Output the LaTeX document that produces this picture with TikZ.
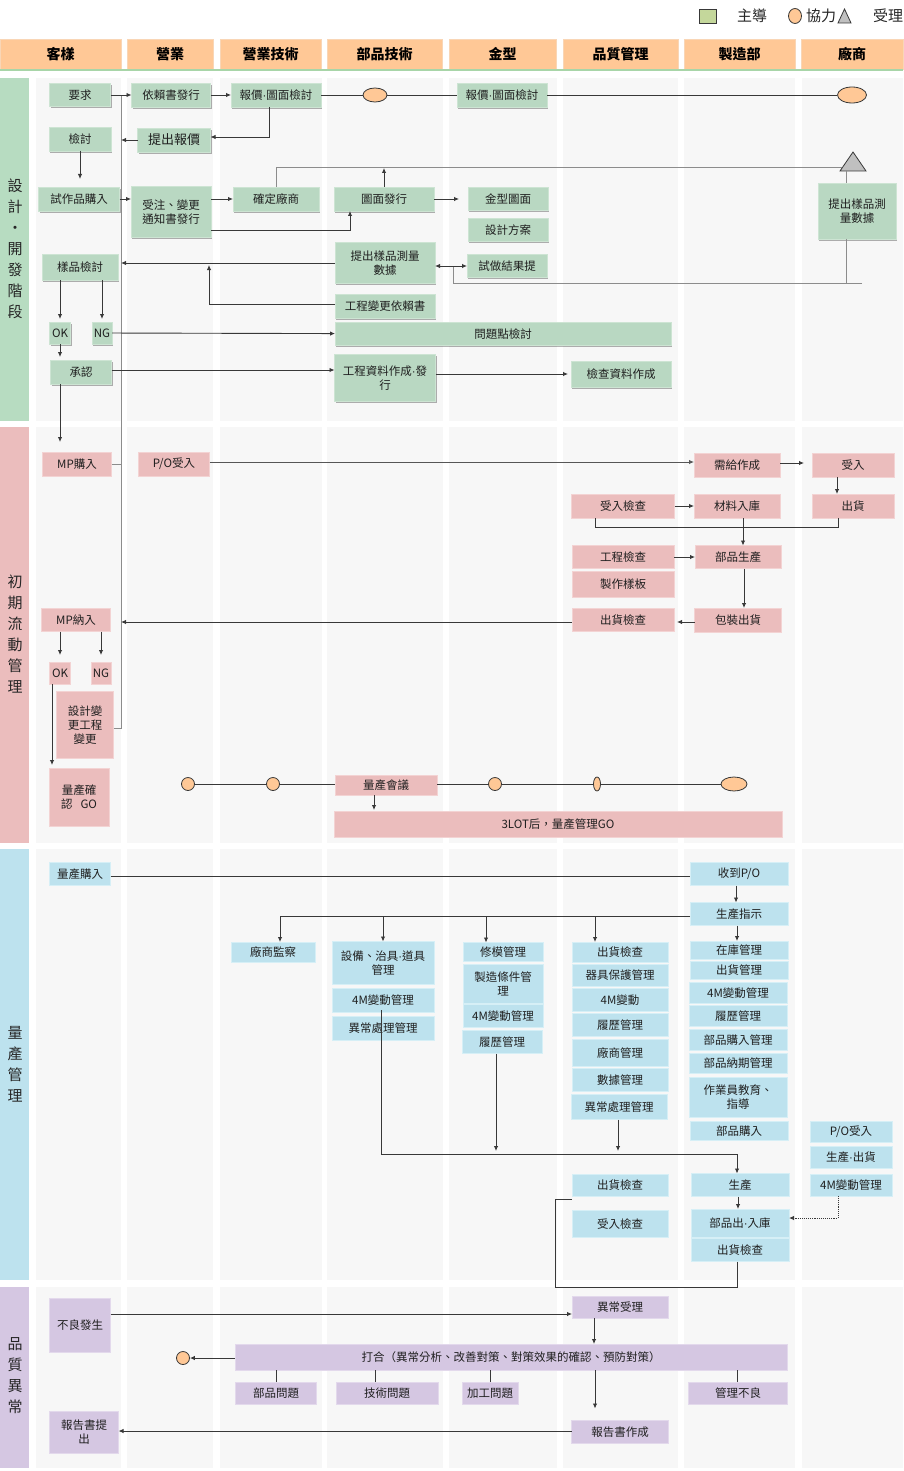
\documentclass[tikz,border=0pt]{standalone}
\usepackage{fontspec}
\setmainfont{Noto Sans CJK TC}
\newfontfamily\latinfont{Liberation Sans}
\newcommand{\mdot}{{\latinfont ·}}
\usetikzlibrary{arrows.meta,shadows,calc,shapes.geometric}
\definecolor{hdr}{HTML}{FFC896}
\definecolor{hdrb}{HTML}{F9D6B6}
\definecolor{gfill}{HTML}{B9D8C2}
\definecolor{gline}{HTML}{CDE4D3}
\definecolor{pfill}{HTML}{EBBDBD}
\definecolor{pline}{HTML}{F3D3D3}
\definecolor{bfill}{HTML}{BDE2EE}
\definecolor{bline}{HTML}{D6EFF6}
\definecolor{vfill}{HTML}{D5C7E2}
\definecolor{vline}{HTML}{E3D9EC}
\definecolor{lane}{HTML}{F7F7F7}
\definecolor{ell}{HTML}{FFC896}
\definecolor{lg}{HTML}{C4D79B}
\definecolor{ln}{HTML}{383838}
\definecolor{lgray}{HTML}{8C8C8C}
\definecolor{phg}{HTML}{B7DCC1}
\definecolor{php}{HTML}{EBBDBD}
\definecolor{phb}{HTML}{BDE2EE}
\definecolor{phv}{HTML}{D5C7E2}
\definecolor{trig}{HTML}{C0C0C0}
\definecolor{hline}{HTML}{A8D5A8}
\begin{document}
\begin{tikzpicture}[x=1pt,y=-1pt,
  basebox/.style={inner sep=0pt,outer sep=0pt,align=center,font=\fontsize{11.5}{14}\selectfont,text=black!88,line width=0.8pt},
  gnode/.style={basebox,fill=gfill,draw=gline,drop shadow={shadow xshift=1.2pt,shadow yshift=-1.8pt,opacity=0.3,fill=black}},
  pnode/.style={basebox,fill=pfill,draw=pline},
  bnode/.style={basebox,fill=bfill,draw=bline},
  vnode/.style={basebox,fill=vfill,draw=vline},
  conn/.style={draw=ln,line width=0.9pt},
  gconn/.style={draw=lgray,line width=1pt},
  arr/.style={conn,-{Latex[length=5pt,width=4.5pt]}},
  tloval/.style={ellipse,draw=ln,fill=ell,line width=0.8pt,inner sep=0pt},
  tlcirc/.style={circle,draw=ln,fill=ell,line width=0.8pt,inner sep=0pt,minimum size=13pt},
  hdrbox/.style={fill=hdr,draw=hdrb,line width=0.8pt,inner sep=0pt,font=\fontsize{14}{16}\selectfont\bfseries},
  phaselbl/.style={inner sep=0pt,align=center,font=\fontsize{15}{21}\selectfont,text=black!85},
  legtxt/.style={inner sep=0pt,font=\fontsize{15}{17}\selectfont,text=black!85}
]
\useasboundingbox (0,0) rectangle (903,1471);
\fill[white] (0,0) rectangle (903,1471);
% backgrounds
\foreach \ya/\yb/\col in {78/421/phg,427/843/php,849/1280/phb,1287/1468/phv}{
  \fill[\col] (0,\ya) rectangle (29,\yb);
  \foreach \xa/\xb in {36/121,127/213,220/322,327/443,449/557,563/678,684/795,802/903}
    \fill[lane] (\xa,\ya) rectangle (\xb,\yb);
}
% legend
\node[draw=ln,fill=lg,line width=0.8pt,minimum width=17pt,minimum height=14pt,inner sep=0pt] (lgsq) at (708,16) {};
\node[legtxt] (lgt1) at (752,16) {主導};
\node[tloval,minimum width=13pt,minimum height=15pt] (lgc) at (795,16) {};
\node[legtxt] (lgt2) at (821,16) {協力};
\draw[fill=trig,draw=ln,line width=0.8pt] (838,23) -- (844.5,9) -- (851,23) -- cycle;
\node[legtxt] (lgt3) at (888,16) {受理};
% header
\node[hdrbox,minimum width=121pt,minimum height=30pt] (h1) at (60.5,54) {客樣};
\node[hdrbox,minimum width=86pt,minimum height=30pt] (h2) at (170,54) {營業};
\node[hdrbox,minimum width=101pt,minimum height=30pt] (h3) at (270.5,54) {營業技術};
\node[hdrbox,minimum width=115pt,minimum height=30pt] (h4) at (384.5,54) {部品技術};
\node[hdrbox,minimum width=107pt,minimum height=30pt] (h5) at (502.5,54) {金型};
\node[hdrbox,minimum width=115pt,minimum height=30pt] (h6) at (620.5,54) {品質管理};
\node[hdrbox,minimum width=111pt,minimum height=30pt] (h7) at (739.5,54) {製造部};
\node[hdrbox,minimum width=102pt,minimum height=30pt] (h8) at (852,54) {廠商};
\draw[hline,line width=1.5pt] (0,70) -- (903,70);
% phase labels
\node[phaselbl] (L1) at (15,249) {設\\計\\·\\開\\發\\階\\段};
\node[phaselbl] (L2) at (15,634) {初\\期\\流\\動\\管\\理};
\node[phaselbl] (L3) at (15,1064) {量\\產\\管\\理};
\node[phaselbl] (L4) at (15,1376) {品\\質\\異\\常};

% ===== Phase 1 =====
\node[gnode,minimum width=61pt,minimum height=23pt] (yq) at (80,95) {要求};
\node[gnode,minimum width=79pt,minimum height=24pt] (yl) at (171,95) {依賴書發行};
\node[gnode,minimum width=90pt,minimum height=24pt] (bj1) at (276,95) {報價\mdot 圖面檢討};
\node[tloval,minimum width=24pt,minimum height=14pt] (e1) at (375,95) {};
\node[gnode,minimum width=90pt,minimum height=24pt] (bj2) at (502,95) {報價\mdot 圖面檢討};
\node[tloval,minimum width=29pt,minimum height=16pt] (e2) at (852,95) {};
\node[gnode,minimum width=62pt,minimum height=24pt] (jt) at (80,139) {檢討};
\node[gnode,minimum width=73pt,minimum height=24pt,font=\fontsize{13}{15}\selectfont] (tc) at (174,140) {提出報價};
\node[gnode,minimum width=81pt,minimum height=24pt] (sz) at (79,199) {試作品購入};
\node[gnode,minimum width=80pt,minimum height=51pt] (sd) at (171,212) {受注、變更\\通知書發行};
\node[gnode,minimum width=86pt,minimum height=24pt] (qd) at (276,199) {確定廠商};
\node[gnode,minimum width=100pt,minimum height=24pt] (tm) at (384,199) {圖面發行};
\node[gnode,minimum width=80pt,minimum height=23pt] (jm) at (508,199) {金型圖面};
\node[gnode,minimum width=80pt,minimum height=23pt] (sf) at (508,230) {設計方案};
\node[gnode,minimum width=78pt,minimum height=56pt] (sm) at (857,211) {提出樣品測\\量數據};
\node[gnode,minimum width=100pt,minimum height=41pt] (ts) at (385,263) {提出樣品測量\\數據};
\node[gnode,minimum width=80pt,minimum height=23pt] (sj) at (507,266) {試做結果提};
\node[gnode,minimum width=76pt,minimum height=26pt] (yp) at (80,267) {樣品檢討};
\node[gnode,minimum width=100pt,minimum height=24pt] (gb) at (385,306) {工程變更依賴書};
\node[gnode,minimum width=21pt,minimum height=22pt] (ok1) at (60,333) {OK};
\node[gnode,minimum width=20pt,minimum height=22pt] (ng1) at (102,333) {NG};
\node[gnode,minimum width=336pt,minimum height=23pt] (wt) at (503,334) {問題點檢討};
\node[gnode,minimum width=61pt,minimum height=24pt] (cr) at (81,372) {承認};
\node[gnode,minimum width=101pt,minimum height=47pt] (gz) at (385,378) {工程資料作成\mdot 發\\行};
\node[gnode,minimum width=100pt,minimum height=26pt] (jc) at (621,374) {檢查資料作成};
% triangle
\draw[fill=trig,draw=ln,line width=0.8pt] (840,171) -- (853,152) -- (866,171) -- cycle;
\coordinate (triL) at (842,168);
\coordinate (triB) at (846,171);

% ===== Phase 2 =====
\node[pnode,minimum width=69pt,minimum height=24pt] (mpg) at (77,464) {MP購入};
\node[pnode,minimum width=71pt,minimum height=24pt] (po1) at (174,464) {P/O受入};
\node[pnode,minimum width=86pt,minimum height=24pt] (xg) at (737,465) {需給作成};
\node[pnode,minimum width=82pt,minimum height=24pt] (sr) at (853,465) {受入};
\node[pnode,minimum width=82pt,minimum height=24pt] (ch) at (853,506) {出貨};
\node[pnode,minimum width=103pt,minimum height=24pt] (sjc) at (623,506) {受入檢查};
\node[pnode,minimum width=86pt,minimum height=24pt] (cl) at (737,506) {材料入庫};
\node[pnode,minimum width=102pt,minimum height=23pt] (gj) at (623,557) {工程檢查};
\node[pnode,minimum width=86pt,minimum height=23pt] (bs) at (738,557) {部品生產};
\node[pnode,minimum width=102pt,minimum height=26pt] (zy) at (623,584) {製作樣板};
\node[pnode,minimum width=102pt,minimum height=23pt] (cj) at (623,620) {出貨檢查};
\node[pnode,minimum width=87pt,minimum height=24pt] (bz) at (738,620) {包裝出貨};
\node[pnode,minimum width=69pt,minimum height=23pt] (mpn) at (76,620) {MP納入};
\node[pnode,minimum width=21pt,minimum height=22pt] (ok2) at (60,673) {OK};
\node[pnode,minimum width=20pt,minimum height=22pt] (ng2) at (101,673) {NG};
\node[pnode,minimum width=57pt,minimum height=67pt] (skb) at (85,725) {設計變\\更工程\\變更};
\node[pnode,minimum width=60pt,minimum height=58pt] (lq) at (79,797) {量產確\\認\hspace{8pt}GO};
\node[tlcirc] (c1) at (188,784) {};
\node[tlcirc] (c2) at (273,784) {};
\node[pnode,minimum width=102pt,minimum height=20pt] (lh) at (386,785) {量產會議};
\node[tlcirc] (c3) at (495,784) {};
\node[tloval,minimum width=7pt,minimum height=14pt] (e3) at (597,784) {};
\node[tloval,minimum width=26pt,minimum height=14pt] (e4) at (734,784) {};
\node[pnode,minimum width=448pt,minimum height=26pt] (lot) at (558,824) {3LOT后，量產管理GO};

% ===== Phase 3 =====
\node[bnode,minimum width=61pt,minimum height=23pt] (lgr) at (80,874) {量產購入};
\node[bnode,minimum width=98pt,minimum height=23pt] (sp) at (739,874) {收到P/O};
\node[bnode,minimum width=98pt,minimum height=23pt] (sc) at (739,914) {生產指示};
\node[bnode,minimum width=84pt,minimum height=20pt] (cs) at (273,952) {廠商監察};
\node[bnode,minimum width=102pt,minimum height=43pt] (sb) at (383,963) {設備、治具\mdot 道具\\管理};
\node[bnode,minimum width=102pt,minimum height=24pt] (m4a) at (383,1000) {4M變動管理};
\node[bnode,minimum width=102pt,minimum height=24pt] (yc1) at (383,1028) {異常處理管理};
\node[bnode,minimum width=80pt,minimum height=19pt] (xm) at (503,952) {修模管理};
\node[bnode,minimum width=80pt,minimum height=39pt] (zz) at (503,984) {製造條件管\\理};
\node[bnode,minimum width=80pt,minimum height=23pt] (m4b) at (503,1016) {4M變動管理};
\node[bnode,minimum width=80pt,minimum height=23pt] (ll1) at (502,1042) {履歷管理};
\node[bnode,minimum width=96pt,minimum height=20pt] (q1) at (620,952) {出貨檢查};
\node[bnode,minimum width=96pt,minimum height=22pt] (q2) at (620,975) {器具保護管理};
\node[bnode,minimum width=96pt,minimum height=23pt] (q3) at (620,1000) {4M變動};
\node[bnode,minimum width=96pt,minimum height=23pt] (q4) at (620,1025) {履歷管理};
\node[bnode,minimum width=96pt,minimum height=27pt] (q5) at (620,1053) {廠商管理};
\node[bnode,minimum width=96pt,minimum height=23pt] (q6) at (620,1080) {數據管理};
\node[bnode,minimum width=96pt,minimum height=25pt] (q7) at (619,1107) {異常處理管理};
\node[bnode,minimum width=98pt,minimum height=18pt] (z1) at (739,950) {在庫管理};
\node[bnode,minimum width=98pt,minimum height=18pt] (z2) at (739,970) {出貨管理};
\node[bnode,minimum width=98pt,minimum height=21pt] (z3) at (738,993) {4M變動管理};
\node[bnode,minimum width=98pt,minimum height=21pt] (z4) at (738,1016) {履歷管理};
\node[bnode,minimum width=98pt,minimum height=21pt] (z5) at (738,1040) {部品購入管理};
\node[bnode,minimum width=98pt,minimum height=20pt] (z6) at (738,1063) {部品納期管理};
\node[bnode,minimum width=98pt,minimum height=40pt] (z7) at (738,1097) {作業員教育、\\指導};
\node[bnode,minimum width=98pt,minimum height=19pt] (z8) at (739,1131) {部品購入};
\node[bnode,minimum width=82pt,minimum height=21pt] (v1) at (851,1132) {P/O受入};
\node[bnode,minimum width=82pt,minimum height=22pt] (v2) at (851,1157) {生產\mdot 出貨};
\node[bnode,minimum width=82pt,minimum height=22pt] (v3) at (851,1185) {4M變動管理};
\node[bnode,minimum width=96pt,minimum height=22pt] (q8) at (620,1185) {出貨檢查};
\node[bnode,minimum width=96pt,minimum height=27pt] (q9) at (620,1224) {受入檢查};
\node[bnode,minimum width=98pt,minimum height=23pt] (z9) at (740,1185) {生產};
\node[bnode,minimum width=98pt,minimum height=28pt] (z10) at (740,1223) {部品出\mdot 入庫};
\node[bnode,minimum width=98pt,minimum height=23pt] (z11) at (740,1250) {出貨檢查};

% ===== Phase 4 =====
\node[vnode,minimum width=61pt,minimum height=54pt] (bl) at (80,1325) {不良發生};
\node[vnode,minimum width=96pt,minimum height=22pt] (yc) at (620,1307) {異常受理};
\node[vnode,minimum width=552pt,minimum height=26pt] (dh) at (511,1357) {打合（異常分析、改善對策、對策效果的確認、預防對策）};
\node[tlcirc] (c4) at (183,1358) {};
\node[vnode,minimum width=81pt,minimum height=22pt] (p1) at (276,1393) {部品問題};
\node[vnode,minimum width=102pt,minimum height=22pt] (p2) at (387,1393) {技術問題};
\node[vnode,minimum width=56pt,minimum height=22pt] (p3) at (490,1393) {加工問題};
\node[vnode,minimum width=99pt,minimum height=22pt] (p4) at (738,1393) {管理不良};
\node[vnode,minimum width=97pt,minimum height=23pt] (bg) at (620,1432) {報告書作成};
\node[vnode,minimum width=69pt,minimum height=42pt] (bt) at (84,1432) {報告書提\\出};

% ===== Connectors phase 1 =====
\coordinate (fbT) at (121,95);
\coordinate (fbB) at (121,728);
\draw[gconn] ($(skb.east)+(0,3)$) -- (fbB) -- (fbT);
\draw[arr] (yq) -- (yl);
\draw[arr] (yl) -- (bj1);
\draw[conn] (bj1) -- (e1);
\draw[conn] (e1) -- (bj2);
\draw[conn] (bj2) -- (e2);
\draw[arr] ($(bj1.south)+(-7,0)$) |- ($(tc.east)+(0,-3)$);
\draw[arr] (tc.west) -- (tc.west -| fbT);
\draw[arr,shorten >=8pt] (jt.south) -- (jt.south |- sz.north);
\draw[arr] (sz.east) -- (sz.east -| sd.west);
\draw[arr] (sd.east |- qd.west) -- (qd.west);
\draw[arr] ($(sd.east)+(0,18)$) -| ($(tm.south)+(-34,0)$);
\draw[gconn] (qd.north) |- (triL);
\draw[arr] (tm.north) -- (tm.north |- triL);
\draw[arr,shorten >=9pt] (tm) -- (jm);
\draw[gconn] (triB) -- (triB |- sm.north);
\coordinate (jR) at (862,283);
\coordinate (jL) at (453,283);
\coordinate (junc) at (453,266);
\draw[gconn] (triB |- sm.south) -- (triB |- jR);
\draw[gconn] (jR) -- (jL) -- (junc);
\draw[arr] (junc) -- (ts.east |- junc);
\draw[arr] (junc) -- (sj.west |- junc);
\draw[arr] (ts.west) -- (ts.west -| fbT);
\coordinate (gbT) at (209,265);
\draw[arr] ($(gb.west)+(0,-2)$) -| (gbT);
\draw[arr,shorten >=3pt] (yp.south -| ok1) -- (ok1.north);
\draw[arr,shorten >=3pt] (yp.south -| ng1) -- (ng1.north);
\draw[arr] (ng1) -- (wt);
\draw[arr,shorten >=3pt] (ok1.south) -- (ok1.south |- cr.north);
\coordinate (crA) at ($(cr.east)+(0,-2)$);
\draw[arr] (crA) -- (crA -| gz.west);
\draw[arr,shorten >=3pt] (jc.west -| gz.east) -- (jc.west);
\draw[arr,shorten >=10pt] (cr.south -| ok1) -- (mpg.north -| ok1);

% ===== Connectors phase 2 =====
\draw[gconn] (mpg.east) -- (mpg.east -| fbT);
\coordinate (poA) at ($(po1.east)+(0,-2)$);
\draw[arr,draw=ln!85] (poA) -- (poA -| xg.west);
\draw[arr,shorten >=8pt] ($(xg.east)+(0,-2)$) -- ($(sr.west)+(0,-2)$);
\draw[arr] ($(sr.south)+(-16,0)$) -- ($(ch.north)+(-16,0)$);
\draw[arr] (sjc) -- (cl);
\coordinate (j527) at (838,527);
\draw[conn] ($(sjc.south)+(-28,0)$) |- (j527) -- (j527 |- ch.south);
\draw[arr] ($(cl.south)+(6,0)$) -- ($(bs.north)+(5,0)$);
\draw[arr] (gj) -- (bs);
\draw[arr] ($(bs.south)+(6,0)$) -- ($(bz.north)+(6,0)$);
\draw[arr,shorten >=3pt] ($(bz.west)+(0,2)$) -- ($(cj.east)+(0,2)$);
\coordinate (cjA) at ($(cj.west)+(0,2)$);
\draw[arr] (cjA) -- (cjA -| fbT);
\draw[arr,shorten >=7pt] (mpn.south -| ok2) -- (ok2.north);
\draw[arr,shorten >=7pt] (mpn.south -| ng2) -- (ng2.north);
\draw[arr,shorten >=3pt] ($(ok2.south)+(-8,0)$) -- ($(lq.north)+(-27,0)$);
\draw[conn] (c1) -- (c2);
\draw[conn] (c2) -- (c2 -| lh.west);
\draw[conn] (c3 -| lh.east) -- (c3);
\draw[conn] (c3) -- (e3);
\draw[conn] (e3) -- (e4);
\draw[arr,shorten >=1pt] ($(lh.south)+(-12,0)$) -- ($(lot.north)+(-184,0)$);

% ===== Connectors phase 3 =====
\draw[conn] ($(lgr.east)+(0,2)$) -- ($(sp.west)+(0,2)$);
\draw[arr] ($(sp.south)+(-3,0)$) -- ($(sc.north)+(-3,0)$);
\draw[arr] ($(sc.west)+(0,2)$) -| ($(cs.north)+(7,0)$);
\coordinate (scW) at ($(sc.west)+(0,2)$);
\draw[arr] (sb.north |- scW) -- (sb.north);
\coordinate (xmA) at ($(xm.north)+(-17,0)$);
\draw[arr] (xmA |- scW) -- (xmA);
\coordinate (q1A) at ($(q1.north)+(-25,0)$);
\draw[arr] (q1A |- scW) -- (q1A);
\draw[arr] ($(sc.south)+(-2,0)$) -- ($(z1.north)+(-2,0)$);
\coordinate (h1154) at (737,1154);
\draw[arr] ($(m4a.center)+(-2,10)$) |- (h1154) -- (h1154 |- z9.north);
\coordinate (llA) at ($(ll1.south)+(-6,0)$);
\draw[arr,shorten >=3pt] (llA) -- (llA |- h1154);
\coordinate (q7A) at ($(q7.south)+(-1,0)$);
\draw[arr,shorten >=3pt] (q7A) -- (q7A |- h1154);
\draw[arr,densely dotted] ($(v3.south)+(-13,0)$) |- ($(z10.east)+(0,-5)$);
\draw[arr] ($(z9.south)+(-2,0)$) -- ($(z10.north)+(-2,0)$);
\coordinate (lpB) at (555,1287);
\draw[conn] ($(z11.south)+(-3,0)$) |- (lpB) |- ($(q8.south west)+(0,3)$);

% ===== Connectors phase 4 =====
\coordinate (blA) at ($(bl.east)+(0,-11)$);
\draw[arr] (blA) -- (blA -| yc.west);
\coordinate (ycA) at ($(yc.south)+(-26,0)$);
\draw[arr] (ycA) -- (ycA |- dh.north);
\draw[arr] (dh.west |- c4) -- (c4);
\draw[conn] (p1.north) -- (p1.north |- dh.south);
\coordinate (p2A) at ($(p2.north)+(-12,0)$);
\draw[conn] (p2A) -- (p2A |- dh.south);
\draw[conn] (p3.north) -- (p3.north |- dh.south);
\coordinate (p4A) at ($(p4.north)+(-1,0)$);
\draw[conn] (p4A) -- (p4A |- dh.south);
\coordinate (bgA) at ($(bg.north)+(-25,0)$);
\draw[arr,shorten >=12pt] (bgA |- dh.south) -- (bgA);
\coordinate (bgB) at ($(bg.west)+(0,-1)$);
\draw[arr] (bgB) -- (bgB -| bt.east);
\end{tikzpicture}
\end{document}
